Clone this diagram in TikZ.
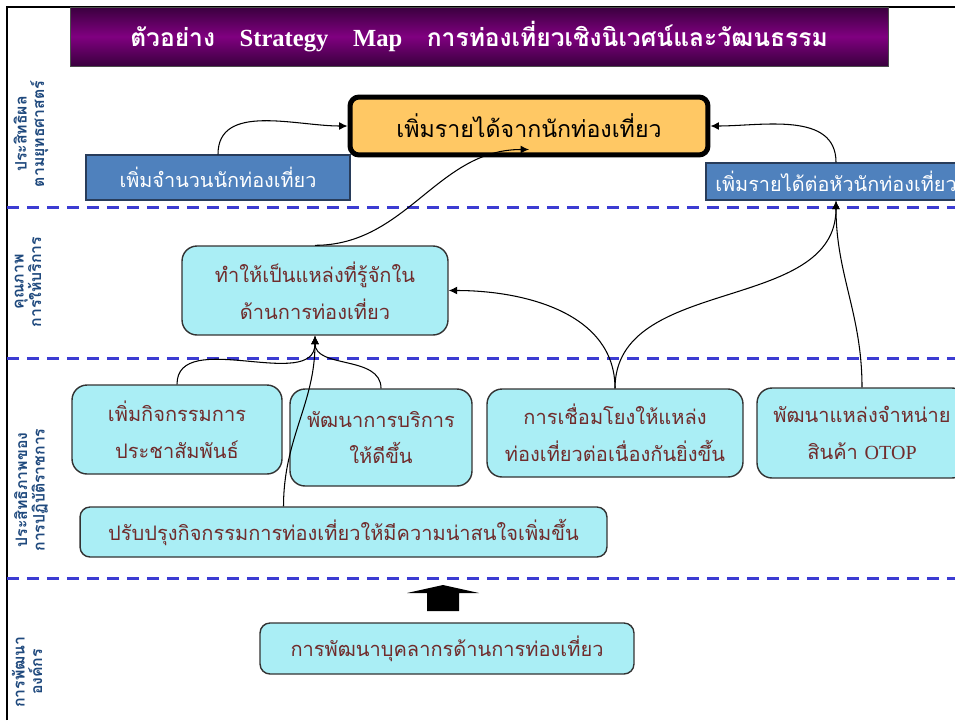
\documentclass[tikz,border=0pt]{standalone}
\usepackage{fontspec}
\setmainfont{Liberation Serif}
\newfontfamily\thai[Script=Thai]{Loma}
\usetikzlibrary{arrows.meta}
\definecolor{titledark}{RGB}{58,0,62}
\definecolor{titlemid}{RGB}{128,0,128}
\definecolor{goalfill}{RGB}{255,200,100}
\definecolor{bluefill}{RGB}{79,129,189}
\definecolor{blueline}{RGB}{40,60,90}
\definecolor{cyanfill}{RGB}{170,238,245}
\definecolor{boxtext}{RGB}{112,44,44}
\definecolor{sidetext}{RGB}{31,73,125}
\definecolor{sepblue}{RGB}{60,60,210}
\begin{document}
\begin{tikzpicture}[x=0.02cm, y=-0.02cm,
  bluebox/.style={draw=blueline, thick, fill=bluefill, text=white, inner sep=0pt,
    font=\thai\fontsize{11.3}{14}\selectfont},
  cyanbox/.style={draw=black!80, thick, fill=cyanfill, rounded corners=0.3cm, text=boxtext,
    align=center, inner sep=0pt, font=\thai\fontsize{11.4}{21}\selectfont},
  sidelabel/.style={rotate=90, align=center, text=sidetext,
    font=\thai\bfseries\fontsize{9}{10}\selectfont},
  sepline/.style={draw=sepblue, line width=0.06cm, dash pattern=on 0.24cm off 0.16cm},
  link/.style={-{Latex[length=1.7mm,width=1.6mm]}, semithick}]
  \useasboundingbox (0,0) rectangle (955,720);

  % Frame
  \draw[line width=0.045cm] (7,720) -- (7,7) -- (955,7);

  % Title
  \node[top color=titledark, bottom color=titledark, middle color=titlemid, draw=black!70,
    minimum width=16.36cm, minimum height=1.18cm, text=white,
    font=\bfseries\fontsize{14}{16}\selectfont] (title) at (479,36.5)
    {{\thai ตัวอย่าง}\quad Strategy\quad Map\quad {\thai การท่องเที่ยวเชิงนิเวศน์และวัฒนธรรม}};

  % Separators
  \draw[sepline] (7,207) -- (955,207);
  \draw[sepline] (7,358) -- (955,358);
  \draw[sepline] (7,578) -- (955,578);

  % Perspectives
  \node[sidelabel] (lab1) at (31,134) {ประสิทธิผล\\ตามยุทธศาสตร์};
  \node[sidelabel] (lab2) at (28,282) {คุณภาพ\\การให้บริการ};
  \node[sidelabel] (lab3) at (31,490) {ประสิทธิภาพของ\\การปฏิบัติราชการ};
  \node[sidelabel] (lab4) at (27,672) {การพัฒนา\\องค์กร};

  % Goal
  \node[draw, line width=0.1cm, rounded corners=0.18cm, fill=goalfill, inner sep=0pt,
    minimum width=7.16cm, minimum height=1.16cm, font=\thai\fontsize{13.2}{15}\selectfont]
    (goal) at (529,126) {เพิ่มรายได้จากนักท่องเที่ยว};
  \node[bluebox, minimum width=5.28cm, minimum height=0.9cm] (n1) at (218,177.5)
    {เพิ่มจำนวนนักท่องเที่ยว};
  \node[bluebox, minimum width=5.2cm, minimum height=0.74cm] (n2) at (836,181.5)
    {เพิ่มรายได้ต่อหัวนักท่องเที่ยว};

  % Service quality
  \node[cyanbox, minimum width=5.32cm, minimum height=1.78cm] (s1) at (315,290.5)
    {ทำให้เป็นแหล่งที่รู้จักใน\\ด้านการท่องเที่ยว};

  % Internal process
  \node[cyanbox, minimum width=4.2cm, minimum height=1.78cm] (p1) at (177,429.5)
    {เพิ่มกิจกรรมการ\\ประชาสัมพันธ์};
  \node[cyanbox, minimum width=3.64cm, minimum height=1.94cm] (p2) at (381,437.5)
    {พัฒนาการบริการ\\ให้ดีขึ้น};
  \node[cyanbox, minimum width=5.12cm, minimum height=1.76cm] (p3) at (615,433)
    {การเชื่อมโยงให้แหล่ง\\ท่องเที่ยวต่อเนื่องกันยิ่งขึ้น};
  \node[cyanbox, minimum width=4.2cm, minimum height=1.8cm] (p4) at (862,433)
    {พัฒนาแหล่งจำหน่าย\\สินค้า {\rmfamily OTOP}};
  \node[cyanbox, rounded corners=0.2cm, minimum width=10.54cm, minimum height=1cm] (p5) at (343.5,532)
    {ปรับปรุงกิจกรรมการท่องเที่ยวให้มีความน่าสนใจเพิ่มขึ้น};

  % Learning and growth
  \node[cyanbox, rounded corners=0.2cm, minimum width=7.48cm, minimum height=1.02cm] (l1) at (447,648.5)
    {การพัฒนาบุคลากรด้านการท่องเที่ยว};
  \fill (427,611) -- (427,593) -- (407,593) -- (443,585) -- (479,593) -- (459,593) -- (459,611) -- cycle;

  % Links
  \draw[link] (n1.north) to[out=90,in=180] (goal.west);
  \draw[link] (n2.north) to[out=90,in=0] (goal.east);
  \draw[link] (s1.north) to[out=0,in=180] ([yshift=0.16cm]goal.south);
  \draw[link] (p3.north) to[out=90,in=0] (s1.east);
  \draw[link] (p3.north) to[out=90,in=-90] (n2.south);
  \draw[link] (p4.north) to[out=90,in=-90] (n2.south);
  \draw[link] (p1.north) to[out=90,in=-90] (s1.south);
  \draw[link] (p2.north) to[out=90,in=-90] (s1.south);
  \draw[link] ([xshift=-1.2cm]p5.north) to[out=90,in=-90] (s1.south);
\end{tikzpicture}
\end{document}
